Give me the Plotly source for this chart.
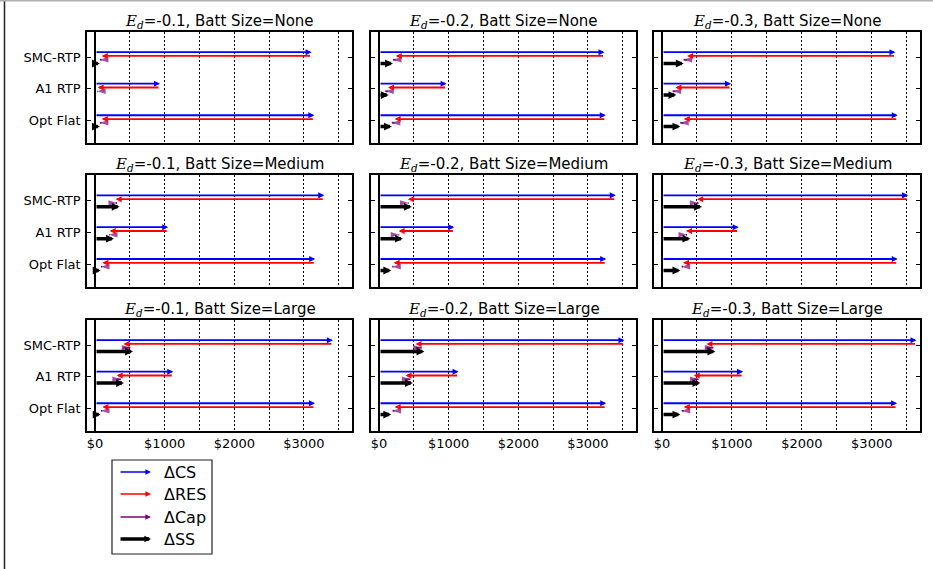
import plotly.graph_objects as go

# ---------------- data ----------------
categories = ["SMC-RTP", "A1 RTP", "Opt Flat"]
elasticities = ["-0.1", "-0.2", "-0.3"]
batt_sizes = ["None", "Medium", "Large"]
x_tick_vals = [0, 1000, 2000, 3000]
x_tick_text = ["$0", "$1000", "$2000", "$3000"]

# indexed [batt size][elasticity][category]
delta_cs = [
    [[3110, 933, 3149], [3238, 971, 3257], [3339, 987, 3372]],
    [[3291, 1051, 3162], [3400, 1081, 3262], [3520, 1097, 3372]],
    [[3416, 1124, 3158], [3524, 1143, 3262], [3640, 1159, 3362]],
]
delta_res = [
    [[3014, 895, 3053], [2998, 841, 3033], [2981, 796, 3062]],
    [[2995, 841, 3057], [2986, 800, 3052], [3019, 754, 3072]],
    [[3009, 813, 3053], [3000, 762, 3038], [3006, 706, 3052]],
]
delta_cap = [
    [[-26, -8, -26], [-40, -40, -40], [-50, -40, -50]],
    [[20, -10, -20], [10, 10, -20], [20, 15, -20]],
    [[100, 60, -20], [90, 70, -30], [100, 70, -30]],
]
delta_ss = [
    [[70, 30, 70], [200, 140, 186], [310, 205, 262]],
    [[354, 272, 81], [471, 343, 176], [572, 405, 262]],
    [[545, 416, 81], [652, 486, 176], [763, 548, 262]],
]

# ---------------- layout constants ----------------
W, H = 933, 569
COLS = [(87, 352), (371, 636), (654, 920)]
ROWS = [(32, 143), (175, 287), (320, 431)]
OFF = {"cs": -0.16, "res": -0.04, "cap": 0.08, "ss": 0.2}
BLUE, RED, PURPLE, BLACK = "#0000ff", "#ff0000", "#800080", "#000000"
FONT = "DejaVu Sans"
GRID_DASH = "1.5px,2.5px"

fig = go.Figure()
annotations = []
layout_axes = {}


def arrow(xref, yref, x0, x1, y, color, width, size):
    return dict(
        x=x1, y=y, ax=x0, ay=y, xref=xref, yref=yref, axref=xref, ayref=yref,
        showarrow=True, arrowhead=2, arrowsize=size, arrowwidth=width,
        arrowcolor=color, standoff=0, text="",
    )


for r in range(3):
    for c in range(3):
        idx = r * 3 + c + 1
        sfx = "" if idx == 1 else str(idx)
        xr, yr = "x" + sfx, "y" + sfx
        x0p, x1p = COLS[c]
        top, bot = ROWS[r]
        layout_axes["xaxis" + sfx] = dict(
            domain=[x0p / W, x1p / W], anchor=yr, range=[-115, 3690],
            tickmode="array", tickvals=x_tick_vals, ticktext=x_tick_text,
            showticklabels=(r == 2), ticks="",
            tickfont=dict(family=FONT, size=13, color="black"),
            showgrid=True, gridcolor="black", griddash=GRID_DASH, gridwidth=1,
            minor=dict(tickmode="linear", tick0=0, dtick=500, showgrid=True,
                       gridcolor="black", griddash=GRID_DASH, gridwidth=1),
            zeroline=True, zerolinecolor="black", zerolinewidth=1.5,
            showline=True, mirror=True, linecolor="black", linewidth=1.5,
            fixedrange=True,
        )
        layout_axes["yaxis" + sfx] = dict(
            domain=[(H - bot) / H, (H - top) / H], anchor=xr,
            range=[2.72, -0.8], tickmode="array", tickvals=[0, 1, 2],
            ticktext=categories, showticklabels=(c == 0),
            ticks="inside", ticklen=4, tickcolor="black", tickwidth=1,
            ticklabelstandoff=2,
            tickfont=dict(family=FONT, size=13, color="black"),
            showgrid=False, zeroline=False,
            showline=True, mirror="allticks", linecolor="black", linewidth=1.5,
            fixedrange=True,
        )
        cs = delta_cs[r][c]
        res = delta_res[r][c]
        cap = delta_cap[r][c]
        ss = delta_ss[r][c]
        px, py, psize = [], [], []
        for k in range(3):
            res_end = cs[k] - res[k]
            annotations.append(arrow(xr, yr, 0, cs[k], k + OFF["cs"], BLUE, 1.8, 0.67))
            annotations.append(arrow(xr, yr, cs[k], res_end, k + OFF["res"], RED, 1.8, 0.67))
            annotations.append(arrow(xr, yr, 0, ss[k], k + OFF["ss"], BLACK, 3.5, 0.45))
            px += [res_end, res_end + cap[k], None]
            py += [k + OFF["cap"], k + OFF["cap"], None]
            psize += [0, 9, 0]
        # ΔCap arrows (short) as lines with arrow markers at their tips
        fig.add_trace(go.Scatter(
            x=px, y=py, xaxis=xr, yaxis=yr, mode="lines+markers",
            line=dict(color=PURPLE, width=1.8),
            marker=dict(symbol="arrow", angleref="previous", size=psize,
                        color=PURPLE, line=dict(width=0)),
            showlegend=False, hoverinfo="skip", connectgaps=False))
        # title
        title = ("<span style=\"font-family:'DejaVu Serif'\"><i>E</i><sub><i>d</i></sub></span>"
                 "=" + elasticities[c] + ", Batt Size=" + batt_sizes[r])
        annotations.append(dict(
            text=title, xref="paper", yref="paper",
            x=(x0p + x1p) / 2 / W, y=(H - (top - 10.5)) / H,
            xanchor="center", yanchor="middle", showarrow=False,
            font=dict(family=FONT, size=15, color="black"),
        ))

# ---------------- legend ----------------
legend_items = [("ΔCS", BLUE, 1.5, 0.75), ("ΔRES", RED, 1.5, 0.75),
                ("ΔCap", PURPLE, 1.5, 0.75), ("ΔSS", BLACK, 3.5, 0.38)]
legend_rows = [472, 494, 517, 539]
for (label, color, w, s), yy in zip(legend_items, legend_rows):
    annotations.append(dict(
        x=151 / W, y=(H - yy) / H, xref="paper", yref="paper",
        ax=-32, ay=0, showarrow=True, arrowhead=2, arrowsize=s, arrowwidth=w,
        arrowcolor=color, standoff=0, text=""))
    annotations.append(dict(
        x=162 / W, y=(H - yy) / H, xref="paper", yref="paper",
        text=label, showarrow=False, xanchor="left", yanchor="middle",
        font=dict(family=FONT, size=16, color="black")))

shapes = [
    dict(type="rect", xref="paper", yref="paper", x0=112 / W, x1=212 / W,
         y0=(H - 554) / H, y1=(H - 460) / H, line=dict(color="#222", width=1.2),
         fillcolor="white", layer="below"),
    dict(type="line", xref="paper", yref="paper", x0=4.5 / W, x1=4.5 / W,
         y0=0, y1=1, line=dict(color="#222", width=1.5)),
    dict(type="line", xref="paper", yref="paper", x0=0, x1=1,
         y0=(H - 0.75) / H, y1=(H - 0.75) / H, line=dict(color="#b0b0b0", width=1.5)),
]

fig.update_layout(
    width=W, height=H, margin=dict(l=0, r=0, t=0, b=0),
    paper_bgcolor="white", plot_bgcolor="white",
    showlegend=False, annotations=annotations, shapes=shapes,
    font=dict(family=FONT, color="black"),
    **layout_axes,
)

fig.write_html("out.html")
